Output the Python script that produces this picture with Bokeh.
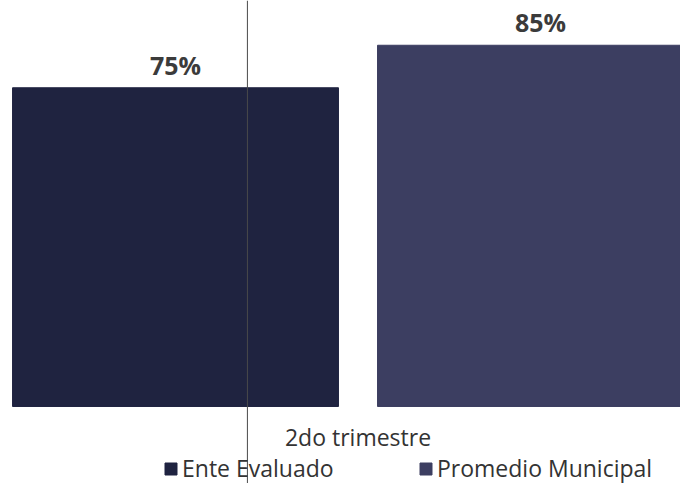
from bokeh.plotting import figure
from bokeh.models import ColumnDataSource, Range1d, Span, Label, Legend, LegendItem
from bokeh.core.properties import value
from bokeh.embed import file_html
from bokeh.resources import INLINE

# ---- data ----
series = ["Ente Evaluado", "Promedio Municipal"]
values = [75, 85]
value_labels = ["75%", "85%"]
category = "2do trimestre"
colors = ["#1f2340", "#3c3e61"]
positions = [0, 1]

src = ColumnDataSource(dict(x=positions, top=values, label=value_labels,
                            color=colors, series=series))

p = figure(width=680, height=483, output_backend="svg", toolbar_location=None,
           x_range=Range1d(-0.4795, 1.3836), y_range=Range1d(-18.12, 95.53),
           x_axis_location=None, y_axis_location=None, min_border=0,
           outline_line_color=None, background_fill_color="white",
           border_fill_color="white")
p.grid.visible = False

bars = p.vbar(x="x", top="top", bottom=0, width=0.893, fill_color="color",
              line_color="color", source=src)

p.text(x="x", y="top", text="label", source=src, text_align="center",
       text_baseline="middle", y_offset=-23, text_font=value("Open Sans"),
       text_font_style="bold", text_font_size="25px", text_color="#3b3b3b")

p.add_layout(Span(location=0.197, dimension="height", line_color="#4a4a4a",
                  line_width=1))

p.add_layout(Label(x=sum(positions) / len(positions), y=47, y_units="screen",
                   text=category, text_align="center", text_baseline="middle",
                   text_font_size="23px", text_color="#333333",
                   text_font="Open Sans"))

legend = Legend(items=[LegendItem(label=series[i], renderers=[bars], index=i)
                       for i in range(len(series))],
                orientation="horizontal", location=(163, -1), padding=0,
                margin=0, border_line_color=None, background_fill_alpha=0,
                glyph_width=15, glyph_height=15, label_standoff=4,
                label_width=200, spacing=36, label_text_font_size="23px",
                label_text_color="#333333", label_text_font="Open Sans")
p.add_layout(legend, "center")

open("out.html", "w").write(file_html(p, INLINE))
